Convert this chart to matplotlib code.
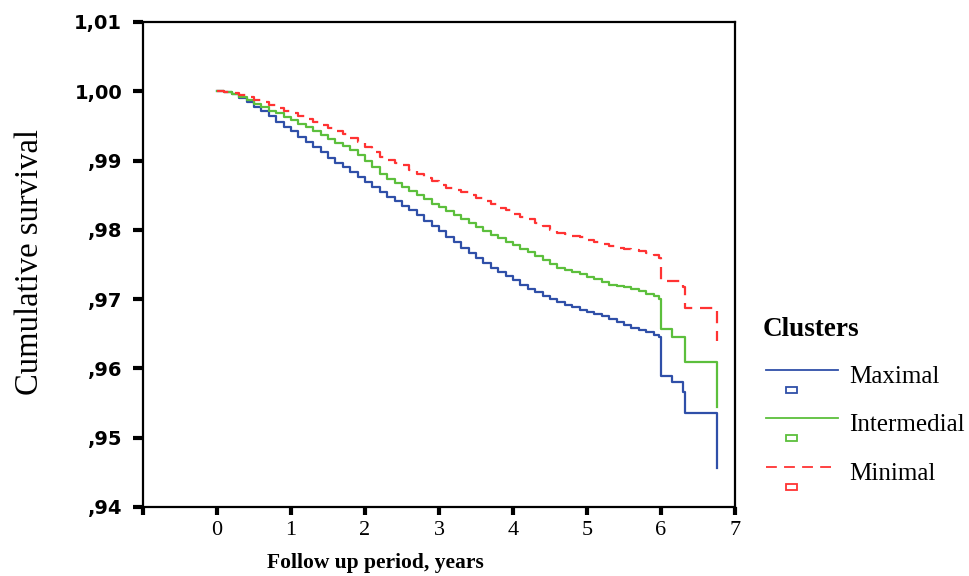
import matplotlib.pyplot as plt
from matplotlib.lines import Line2D
from matplotlib.patches import Rectangle

# survival curves (years, cumulative survival)
grid_years = [0.0, 0.1, 0.2, 0.3, 0.4, 0.5, 0.6, 0.7, 0.8, 0.9,
              1.0, 1.1, 1.2, 1.3, 1.4, 1.5, 1.6, 1.7, 1.8, 1.9,
              2.0, 2.1, 2.2, 2.3, 2.4, 2.5, 2.6, 2.7, 2.8, 2.9,
              3.0, 3.1, 3.2, 3.3, 3.4, 3.5, 3.6, 3.7, 3.8, 3.9,
              4.0, 4.1, 4.2, 4.3, 4.4, 4.5, 4.6, 4.7, 4.8, 4.9,
              5.0, 5.1, 5.2, 5.3, 5.4, 5.5, 5.6, 5.7, 5.8, 5.9, 5.97]

max_surv = [1.0000, .9999, .9996, .9991, .9985, .9978, .9971, .9964, .9956, .9949,
            .9942, .9934, .9927, .9919, .9912, .9904, .9897, .9890, .9883, .9876,
            .9869, .9862, .9855, .9848, .9841, .9835, .9828, .9821, .9813, .9806,
            .9798, .9790, .9782, .9774, .9767, .9759, .9752, .9745, .9739, .9733,
            .9727, .9721, .9715, .9710, .9705, .9700, .9696, .9692, .9688, .9685,
            .9682, .9678, .9675, .9671, .9667, .9663, .9659, .9656, .9652, .9648, .9646]
max_tail_years = [6.0, 6.15, 6.30, 6.33, 6.76]
max_tail_surv = [.9589, .9580, .9566, .9535, .9457]

int_surv = [1.0000, .9999, .9996, .9992, .9987, .9982, .9977, .9972, .9968, .9963,
            .9958, .9953, .9948, .9942, .9937, .9931, .9926, .9921, .9915, .9908,
            .9900, .9891, .9881, .9874, .9868, .9862, .9856, .9850, .9844, .9838,
            .9833, .9827, .9821, .9815, .9810, .9804, .9798, .9793, .9788, .9783,
            .9778, .9773, .9768, .9762, .9756, .9750, .9745, .9742, .9739, .9736,
            .9732, .9729, .9725, .9721, .9719, .9717, .9715, .9712, .9708, .9704, .9700]
int_tail_years = [6.0, 6.15, 6.33, 6.76]
int_tail_surv = [.9657, .9646, .9609, .9544]

min_surv = [1.0000, .9999, .9998, .9995, .9992, .9988, .9984, .9980, .9976, .9972,
            .9968, .9964, .9960, .9956, .9951, .9947, .9943, .9938, .9933, .9927,
            .9920, .9913, .9905, .9901, .9897, .9893, .9887, .9881, .9875, .9870,
            .9865, .9861, .9857, .9854, .9850, .9846, .9842, .9837, .9832, .9828,
            .9823, .9819, .9815, .9810, .9805, .9800, .9796, .9794, .9791, .9789,
            .9786, .9783, .9779, .9776, .9774, .9773, .9771, .9769, .9766, .9763, .9760]
min_tail_years = [6.0, 6.3, 6.33, 6.76]
min_tail_surv = [.9726, .9717, .9687, .9639]

x_ticks = [-1, 0, 1, 2, 3, 4, 5, 6, 7]
x_tick_labels = ["", "0", "1", "2", "3", "4", "5", "6", "7"]
y_ticks = [0.94, 0.95, 0.96, 0.97, 0.98, 0.99, 1.00, 1.01]
y_tick_labels = [",94", ",95", ",96", ",97", ",98", ",99", "1,00", "1,01"]

clusters = ["Maximal", "Intermedial", "Minimal"]
colors = ["#2f4fa8", "#5cbf3c", "#ff3333"]

W, H = 970, 576
fig = plt.figure(figsize=[9.7, 5.76], dpi=100)
ax = fig.add_axes([143 / W, 1 - 507 / H, (735 - 143) / W, (507 - 22) / H])

ax.step(grid_years + max_tail_years, max_surv + max_tail_surv, where="post",
        color=colors[0], lw=1.6)
ax.step(grid_years + int_tail_years, int_surv + int_tail_surv, where="post",
        color=colors[1], lw=1.6)
ax.step(grid_years + min_tail_years, min_surv + min_tail_surv, where="post",
        color=colors[2], lw=1.6, dashes=(5.5, 3.5))

ax.set_xlim(-1, 7)
ax.set_ylim(0.94, 1.01)
ax.set_xticks(x_ticks)
ax.set_xticklabels(x_tick_labels, family="Liberation Serif", fontsize=16)
ax.set_yticks(y_ticks)
ax.set_yticklabels(y_tick_labels, family="DejaVu Sans", fontsize=14,
                   fontweight="bold")
ax.tick_params(axis="y", length=7, width=3, pad=8)
ax.tick_params(axis="x", length=6, width=3, pad=4)
for s in ax.spines.values():
    s.set_linewidth(1.6)

ax.set_xlabel("Follow up period, years", family="Liberation Serif",
              fontsize=15.5, fontweight="bold")
ax.xaxis.set_label_coords((375 - 143) / 592, -0.095)
ax.set_ylabel("Cumulative survival", family="Liberation Serif", fontsize=23.5)
ax.yaxis.set_label_coords(-0.166, 0.505)

# legend drawn by hand, SPSS style
fig.text(763 / W, 1 - 330 / H, "Clusters", family="Liberation Serif",
         fontsize=19.5, fontweight="bold", va="center")
rows = [370, 418, 467]
for name, c, py in zip(clusters, colors, rows):
    ls = "--" if name == "Minimal" else "-"
    ln = Line2D([766 / W, 838 / W], [1 - py / H, 1 - py / H],
                transform=fig.transFigure, color=c, lw=1.3, linestyle=ls)
    if name == "Minimal":
        ln.set_dashes((6, 4))
    fig.add_artist(ln)
    fig.text(849 / W, 1 - (py + 7) / H, name, family="Liberation Serif",
             fontsize=18, va="center")
    fig.add_artist(Rectangle((786 / W, 1 - (py + 23) / H), 11 / W, 6 / H,
                             transform=fig.transFigure, fill=False,
                             edgecolor=c, lw=1.3))

plt.savefig("out.png", dpi=100)
